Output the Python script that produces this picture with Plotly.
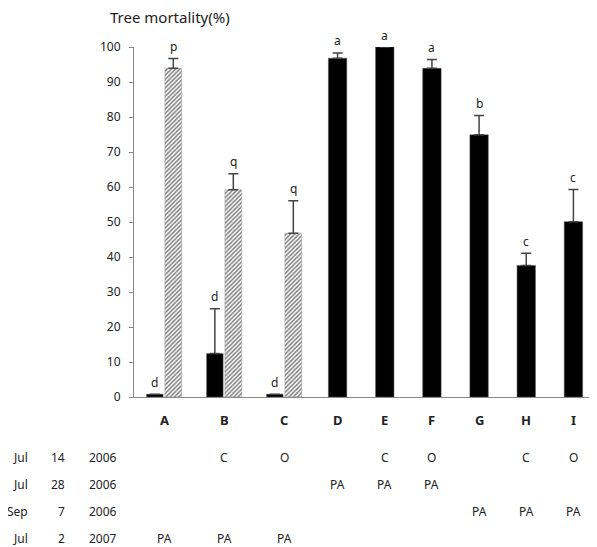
import plotly.graph_objects as go

# ---- data ----
groups_ac = ["A", "B", "C"]
black_ac = [0.8, 12.4, 0.8]
black_ac_err = [None, 12.8, None]
black_ac_sig = ["d", "d", "d"]
hatch_ac = [93.9, 59.2, 46.8]
hatch_ac_err = [2.8, 4.6, 9.3]
hatch_ac_sig = ["p", "q", "q"]

groups_di = ["D", "E", "F", "G", "H", "I"]
black_di = [96.8, 100.0, 93.9, 74.9, 37.6, 50.1]
black_di_err = [1.5, None, 2.5, 5.5, 3.5, 9.2]
black_di_sig = ["a", "a", "a", "b", "c", "c"]

all_groups = groups_ac + groups_di
row_dates = [("Jul", "14", "2006"), ("Jul", "28", "2006"), ("Sep", "7", "2006"), ("Jul", "2", "2007")]
row_entries = [
    ["", "C", "O", "", "C", "O", "", "C", "O"],
    ["", "", "", "PA", "PA", "PA", "", "", ""],
    ["", "", "", "", "", "", "PA", "PA", "PA"],
    ["PA", "PA", "PA", "", "", "", "", "", ""],
]
y_title = "Tree mortality(%)"

FONT = "Noto Sans"
TXT = "#222222"
AX = "#888888"
ERR = "#444444"

fig = go.Figure()

fig.add_trace(go.Bar(
    x=groups_ac, y=black_ac, xaxis="x", yaxis="y",
    marker=dict(color="black", line=dict(color="#555555", width=0.5)),
    width=0.275, offset=-0.29,
    error_y=dict(type="data", array=black_ac_err, symmetric=False,
                 arrayminus=[0, 0, 0], color=ERR, thickness=1.5, width=5),
    showlegend=False,
))
fig.add_trace(go.Bar(
    x=groups_ac, y=hatch_ac, xaxis="x", yaxis="y",
    marker=dict(color="white", line=dict(color="#999999", width=0.5),
                pattern=dict(shape="/", size=3, solidity=0.5,
                             fgcolor="#000000", bgcolor="white")),
    width=0.28, offset=0.015,
    error_y=dict(type="data", array=hatch_ac_err, symmetric=False,
                 arrayminus=[0, 0, 0], color=ERR, thickness=1.5, width=5),
    showlegend=False,
))
fig.add_trace(go.Bar(
    x=groups_di, y=black_di, xaxis="x2", yaxis="y2",
    marker=dict(color="black", line=dict(color="#555555", width=0.5)),
    width=0.39,
    error_y=dict(type="data", array=black_di_err, symmetric=False,
                 arrayminus=[0] * 6, color=ERR, thickness=1.5, width=5),
    showlegend=False,
))

ann = []
def sig(xref, yref, x, v, e, s, xoff):
    top = v + (e or 0)
    ann.append(dict(x=x, y=top, xref=xref, yref=yref, text=s, showarrow=False,
                    xshift=xoff, yshift=12, yanchor="middle",
                    font=dict(family=FONT, size=12, color=TXT)))

for g, v, e, s in zip(groups_ac, black_ac, black_ac_err, black_ac_sig):
    sig("x", "y", g, v, e, s, -9.5)
for g, v, e, s in zip(groups_ac, hatch_ac, hatch_ac_err, hatch_ac_sig):
    sig("x", "y", g, v, e, s, 9.3)
for g, v, e, s in zip(groups_di, black_di, black_di_err, black_di_sig):
    sig("x2", "y2", g, v, e, s, 0)

# category labels
for g in all_groups:
    xr = "x" if g in groups_ac else "x2"
    ann.append(dict(x=g, y=0, xref=xr, yref="y", text="<b>" + g + "</b>",
                    showarrow=False, yshift=-23, yanchor="middle",
                    font=dict(family=FONT, size=13, color=TXT)))

# table
row_shift = [-60, -87, -114, -141]
TF = dict(family=FONT, size=12, color=TXT)
for (m, d, yr), entries, ys in zip(row_dates, row_entries, row_shift):
    ann.append(dict(x=0, y=0, xref="paper", yref="y", text=m, showarrow=False,
                    xanchor="right", xshift=-104, yshift=ys, yanchor="middle", font=TF))
    ann.append(dict(x=0, y=0, xref="paper", yref="y", text=d, showarrow=False,
                    xanchor="right", xshift=-67, yshift=ys, yanchor="middle", font=TF))
    ann.append(dict(x=0, y=0, xref="paper", yref="y", text=yr, showarrow=False,
                    xanchor="left", xshift=-47, yshift=ys, yanchor="middle", font=TF))
    for g, t in zip(all_groups, entries):
        if not t:
            continue
        xr = "x" if g in groups_ac else "x2"
        ann.append(dict(x=g, y=0, xref=xr, yref="y", text=t, showarrow=False,
                        yshift=ys, yanchor="middle", font=TF))

# y title
ann.append(dict(x=0, y=1, xref="paper", yref="paper", text=y_title, showarrow=False,
                xanchor="left", yanchor="middle", xshift=-26, yshift=30,
                font=dict(family=FONT, size=15, color=TXT)))

# page body has an 8px default margin: shrink the figure accordingly
fig.update_layout(
    width=589, height=539,
    margin=dict(l=126, r=0, t=39, b=150),
    paper_bgcolor="white", plot_bgcolor="white",
    barmode="overlay",
    font=dict(family=FONT, color=TXT),
    xaxis=dict(domain=[0, 0.3888], range=[-0.5, 2.5], showline=True, linecolor=AX,
               linewidth=1, showticklabels=False, ticks="", showgrid=False,
               zeroline=False, fixedrange=True),
    xaxis2=dict(domain=[0.3888, 1], range=[-0.5, 5.5], showline=True, linecolor=AX,
                linewidth=1, showticklabels=False, ticks="", showgrid=False,
                zeroline=False, anchor="y2", fixedrange=True),
    yaxis=dict(range=[0, 100], dtick=10, showline=True, linecolor=AX, linewidth=1,
               ticks="outside", ticklen=4, tickcolor=AX, showgrid=False, zeroline=False,
               tickfont=dict(family=FONT, size=12, color=TXT), ticklabelstandoff=6),
    yaxis2=dict(matches="y", anchor="x2", domain=[0, 1], visible=False),
    annotations=ann,
)

fig.write_html("out.html")
